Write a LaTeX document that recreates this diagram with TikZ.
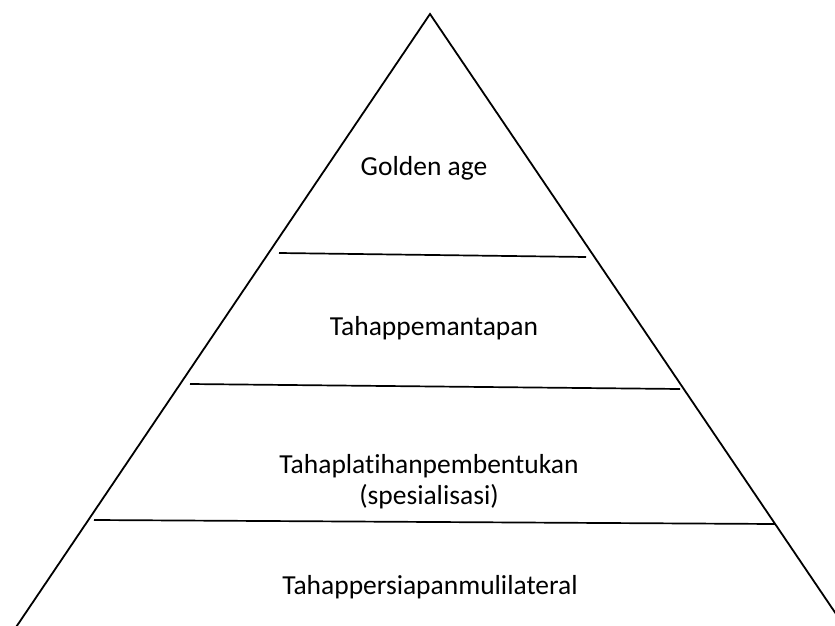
\documentclass[tikz,border=0pt]{standalone}
\usepackage{fontspec}
\setmainfont[Ligatures=NoCommon]{Carlito}
\begin{document}
\begin{tikzpicture}[x=1pt,y=-1pt,
  edge/.style={line width=1.8pt,black},
  level/.style={line width=1.7pt,black},
  lbl/.style={font=\fontsize{27.5}{31}\selectfont,align=center,inner sep=0pt}]
\useasboundingbox (0,0) rectangle (835,626);
\clip (0,0) rectangle (835,626);
\coordinate (apex) at (430,14);
\coordinate (bl) at (6,642);
\coordinate (br) at (855,642);
\draw[edge,line join=miter] (bl) -- (apex) -- (br);
\coordinate (a1) at (279,253); \coordinate (b1) at (586,257);
\coordinate (a2) at (190,384); \coordinate (b2) at (680,389);
\coordinate (a3) at (94,520);  \coordinate (b3) at (775,524);
\draw[level] (a1) -- (b1);
\draw[level] (a2) -- (b2);
\draw[level] (a3) -- (b3);
\node[lbl] (t1) at (424,168) {Golden age};
\node[lbl] (t2) at (434,328) {Tahappemantapan};
\node[lbl] (t3) at (429,482) {Tahaplatihanpembentukan\\(spesialisasi)};
\node[lbl] (t4) at (430,587) {Tahappersiapanmulilateral};
\end{tikzpicture}
\end{document}
